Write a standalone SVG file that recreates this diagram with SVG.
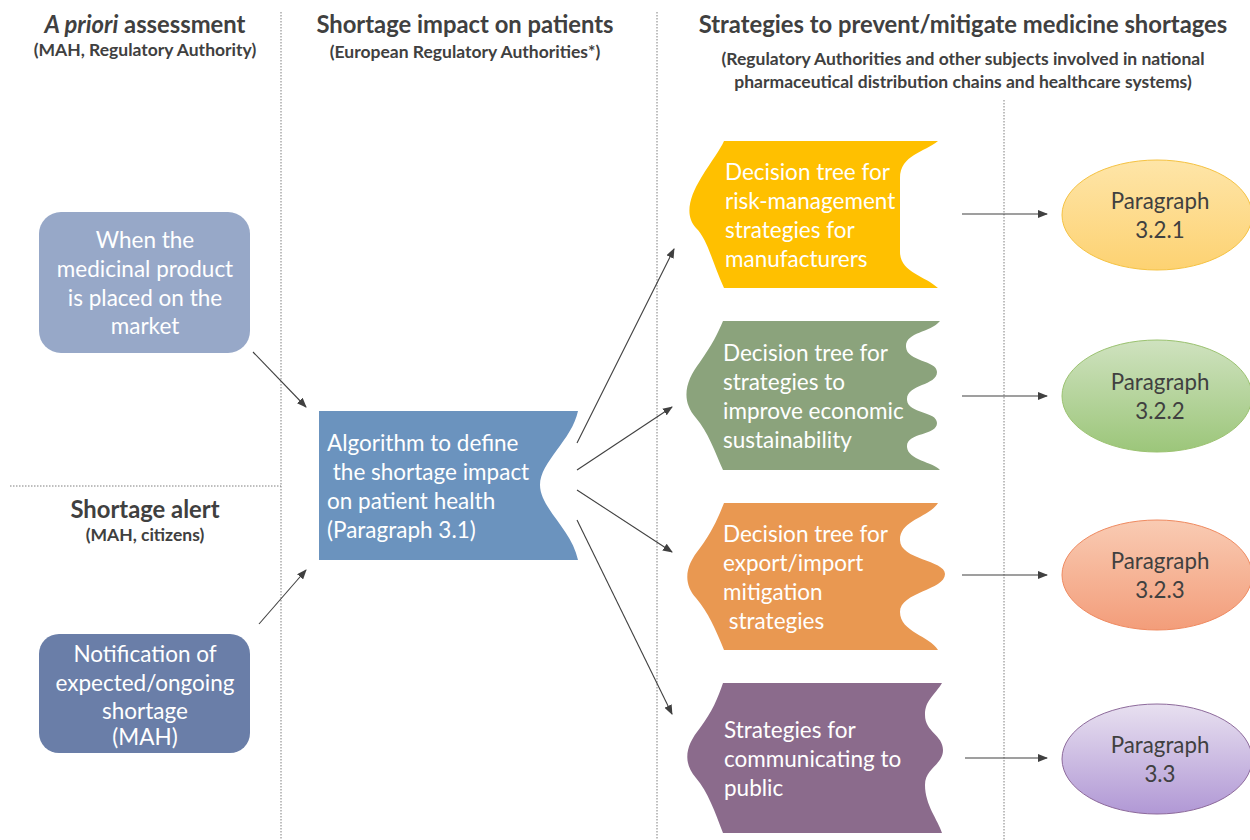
<svg xmlns="http://www.w3.org/2000/svg" width="1250" height="840" viewBox="0 0 1250 840">
<defs>
<style>
.hd{font-family:Lato,"Open Sans",sans-serif;font-weight:bold;fill:#404040;text-anchor:middle}
.h1{font-size:23.8px}
.h2{font-size:17.5px}
.wt{font-family:Lato,"Open Sans",sans-serif;font-size:22.5px;fill:#ffffff}
.ct{text-anchor:middle}
.pt{font-family:Lato,"Open Sans",sans-serif;font-size:22.3px;fill:#404040;text-anchor:middle}
.dl{stroke:#7f7f7f;stroke-width:1;stroke-dasharray:1.5 1.5;fill:none}
.ar{stroke:#404040;stroke-width:1.1;fill:none;marker-end:url(#ah)}
</style>
<marker id="ah" markerWidth="10" markerHeight="8" refX="9" refY="4" orient="auto" markerUnits="userSpaceOnUse">
<path d="M0,0 L10,4 L0,8 z" fill="#404040"/>
</marker>
<linearGradient id="gY" x1="0" y1="0" x2="0" y2="1"><stop offset="0" stop-color="#fee5a8"/><stop offset="1" stop-color="#fdd272"/></linearGradient>
<linearGradient id="gG" x1="0" y1="0" x2="0" y2="1"><stop offset="0" stop-color="#cfe2bf"/><stop offset="1" stop-color="#9cc67a"/></linearGradient>
<linearGradient id="gO" x1="0" y1="0" x2="0" y2="1"><stop offset="0" stop-color="#f9cbb3"/><stop offset="1" stop-color="#f39d7a"/></linearGradient>
<linearGradient id="gP" x1="0" y1="0" x2="0" y2="1"><stop offset="0" stop-color="#e8e0f0"/><stop offset="1" stop-color="#b198d5"/></linearGradient>
</defs>

<g id="guides">
<line class="dl" x1="281" y1="12" x2="281" y2="840"/>
<line class="dl" x1="657" y1="12" x2="657" y2="840"/>
<line class="dl" x1="1004" y1="100" x2="1004" y2="840"/>
<line class="dl" x1="10" y1="486" x2="281" y2="486"/>
</g>

<g id="headers">
<text class="hd h1" x="145" y="33"><tspan font-style="italic">A priori</tspan> assessment</text>
<text class="hd h2" x="145" y="56">(MAH, Regulatory Authority)</text>
<text class="hd h1" x="465" y="33">Shortage impact on patients</text>
<text class="hd h2" x="465" y="58">(European Regulatory Authorities*)</text>
<text class="hd h1" x="963" y="33">Strategies to prevent/mitigate medicine shortages</text>
<text class="hd h2" x="963" y="65">(Regulatory Authorities and other subjects involved in national</text>
<text class="hd h2" x="963" y="88">pharmaceutical distribution chains and healthcare systems)</text>
<text class="hd h1" x="145" y="518">Shortage alert</text>
<text class="hd h2" x="145" y="541">(MAH, citizens)</text>
</g>

<g id="connectors">
<line class="ar" x1="253" y1="352" x2="306" y2="407"/>
<line class="ar" x1="259" y1="624" x2="306" y2="570"/>
<line class="ar" x1="577" y1="443" x2="674" y2="249"/>
<line class="ar" x1="577" y1="470" x2="672" y2="407"/>
<line class="ar" x1="577" y1="490" x2="672" y2="552"/>
<line class="ar" x1="577" y1="520" x2="672" y2="714"/>
<line class="ar" x1="962" y1="214" x2="1047" y2="214"/>
<line class="ar" x1="962" y1="396" x2="1047" y2="396"/>
<line class="ar" x1="962" y1="575" x2="1047" y2="575"/>
<line class="ar" x1="965" y1="758" x2="1047" y2="758"/>
</g>

<g id="node-placed">
<rect x="39" y="212" width="211" height="141" rx="22" fill="#97a8c8"/>
<text class="wt ct" x="145" y="248">When the</text>
<text class="wt ct" x="145" y="277">medicinal product</text>
<text class="wt ct" x="145" y="306">is placed on the</text>
<text class="wt ct" x="145" y="334">market</text>
</g>

<g id="node-notification">
<rect x="39" y="634" width="211" height="119" rx="20" fill="#6a7ea8"/>
<text class="wt ct" x="145" y="662">Notification of</text>
<text class="wt ct" x="145" y="691">expected/ongoing</text>
<text class="wt ct" x="145" y="719">shortage</text>
<text class="wt ct" x="145" y="745" font-size="15">(MAH)</text>
</g>

<g id="node-algorithm">
<path d="M319,411 L578,411 C572,440 540,462 540,485 C540,508 572,530 578,560 L319,560 Z" fill="#6b93be"/>
<text class="wt" x="327" y="451">Algorithm to define</text>
<text class="wt" x="327" y="480" xml:space="preserve"> the shortage impact</text>
<text class="wt" x="327" y="509">on patient health</text>
<text class="wt" x="327" y="538">(Paragraph 3.1)</text>
</g>

<g id="node-risk">
<path d="M724,141 L938,141 C925,152 900,155 900,178 L900,252 C900,272 925,276 938,288 L724,288 C712,262 708,240 696,228 C684,215 690,196 701,178 C712,160 720,150 724,141 Z" fill="#ffc000"/>
<text class="wt" x="725" y="180">Decision tree for</text>
<text class="wt" x="725" y="209">risk-management</text>
<text class="wt" x="725" y="238">strategies for</text>
<text class="wt" x="725" y="267">manufacturers</text>
</g>

<g id="node-economic">
<path d="M723,321 L940,321 C930,333 905,332 906,347 C907,362 937,360 937,372 C937,386 906,384 907,400 C908,414 937,411 937,423 C937,436 906,432 907,447 C908,460 933,462 940,470 L723,470 C715,452 708,432 696,418 C680,400 686,380 700,362 C712,345 718,333 723,321 Z" fill="#8ba37c"/>
<text class="wt" x="723" y="361">Decision tree for</text>
<text class="wt" x="723" y="390">strategies to</text>
<text class="wt" x="723" y="419">improve economic</text>
<text class="wt" x="723" y="448">sustainability</text>
</g>

<g id="node-export">
<path d="M724,503 L938,503 C928,518 900,520 900,540 C900,560 945,560 945,574 C945,590 900,592 900,612 C900,632 930,636 938,650 L724,650 C716,630 708,612 696,598 C682,582 686,565 700,548 C712,532 718,518 724,503 Z" fill="#e99851"/>
<text class="wt" x="723" y="542">Decision tree for</text>
<text class="wt" x="723" y="571">export/import</text>
<text class="wt" x="723" y="600">mitigation</text>
<text class="wt" x="723" y="629" xml:space="preserve"> strategies</text>
</g>

<g id="node-public">
<path d="M723,683 L942,683 C935,695 925,700 925,715 C925,732 943,735 943,750 C943,765 925,768 925,785 C925,805 938,820 942,833 L723,833 C715,812 708,792 696,778 C682,762 686,745 700,728 C712,712 718,698 723,683 Z" fill="#8b6b8c"/>
<text class="wt" x="724" y="738">Strategies for</text>
<text class="wt" x="724" y="767">communicating to</text>
<text class="wt" x="724" y="796">public</text>
</g>

<g id="node-p321">
<ellipse cx="1157" cy="215" rx="95" ry="55" fill="url(#gY)" stroke="#f5c242" stroke-width="1"/>
<text class="pt" x="1160" y="209">Paragraph</text>
<text class="pt" x="1160" y="238">3.2.1</text>
</g>
<g id="node-p322">
<ellipse cx="1157" cy="396" rx="95" ry="56" fill="url(#gG)" stroke="#9bc270" stroke-width="1"/>
<text class="pt" x="1160" y="390">Paragraph</text>
<text class="pt" x="1160" y="419">3.2.2</text>
</g>
<g id="node-p323">
<ellipse cx="1157" cy="575" rx="95" ry="55" fill="url(#gO)" stroke="#ef8a60" stroke-width="1"/>
<text class="pt" x="1160" y="569">Paragraph</text>
<text class="pt" x="1160" y="598">3.2.3</text>
</g>
<g id="node-p33">
<ellipse cx="1157" cy="759" rx="95" ry="55" fill="url(#gP)" stroke="#8d6a9b" stroke-width="1"/>
<text class="pt" x="1160" y="753">Paragraph</text>
<text class="pt" x="1160" y="782">3.3</text>
</g>
</svg>
